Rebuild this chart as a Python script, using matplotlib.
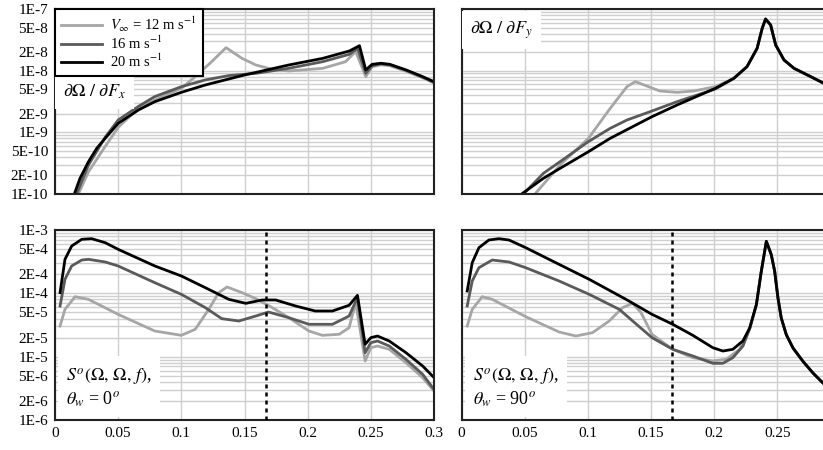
import numpy as np
import matplotlib
matplotlib.use("Agg")
import matplotlib.pyplot as plt
from matplotlib.ticker import FixedLocator, LogLocator, NullFormatter

plt.rcParams['font.family'] = ['Liberation Serif', 'DejaVu Serif']
plt.rcParams['mathtext.fontset'] = 'stix'

# values, stored as log10 of the plotted quantity
# --- top left: dOmega / dFx
fx_x_12 = [0.0185, 0.0265, 0.0397, 0.050, 0.066, 0.079, 0.100, 0.111, 0.124, 0.1354, 0.148, 0.159,
           0.172, 0.185, 0.212, 0.230, 0.238, 0.246, 0.251, 0.258, 0.265, 0.278, 0.291, 0.300]
fx_y_12 = [-10, -9.64, -9.23, -8.92, -8.61, -8.476, -8.286, -8.097, -7.854, -7.627, -7.80, -7.908,
           -7.978, -8.005, -7.962, -7.854, -7.69, -8.097, -7.935, -7.905, -7.92, -8.01, -8.115, -8.20]
fx_x_16 = [0.0172, 0.021, 0.0265, 0.0397, 0.050, 0.066, 0.079, 0.100, 0.119, 0.1376, 0.159, 0.185,
           0.212, 0.233, 0.2395, 0.246, 0.251, 0.258, 0.265, 0.278, 0.291, 0.300]
fx_y_16 = [-10, -9.80, -9.53, -9.08, -8.80, -8.58, -8.42, -8.26, -8.15, -8.08, -8.043, -7.962,
           -7.854, -7.735, -7.638, -8.043, -7.92, -7.89, -7.905, -7.995, -8.105, -8.19]
fx_x_20 = [0.0153, 0.0198, 0.0265, 0.033, 0.0397, 0.050, 0.066, 0.079, 0.100, 0.119, 0.150, 0.185,
           0.212, 0.233, 0.241, 0.246, 0.251, 0.258, 0.265, 0.278, 0.291, 0.300]
fx_y_20 = [-10, -9.746, -9.476, -9.26, -9.097, -8.854, -8.638, -8.503, -8.351, -8.232, -8.07, -7.908,
           -7.80, -7.681, -7.595, -7.989, -7.897, -7.88, -7.897, -7.989, -8.097, -8.178]

# --- top right: dOmega / dFy
fy_x_12 = [0.0582, 0.078, 0.1005, 0.1177, 0.131, 0.1376, 0.148, 0.157, 0.1706, 0.184, 0.201, 0.2156,
           0.226, 0.234, 0.238, 0.2407, 0.2447, 0.2487, 0.2553, 0.2632, 0.2738, 0.2868, 0.300]
fy_y_12 = [-10, -9.53, -9.097, -8.611, -8.259, -8.178, -8.259, -8.33, -8.351, -8.33, -8.259, -8.124,
           -7.935, -7.638, -7.314, -7.162, -7.26, -7.584, -7.827, -7.962, -8.07, -8.205, -8.32]
fy_x_16 = [0.049, 0.0648, 0.078, 0.1005, 0.1177, 0.131, 0.1508, 0.1706, 0.201, 0.2156,
           0.226, 0.234, 0.238, 0.2407, 0.2447, 0.2487, 0.2553, 0.2632, 0.2738, 0.2868, 0.300]
fy_y_16 = [-10, -9.665, -9.476, -9.15, -8.935, -8.80, -8.654, -8.503, -8.297, -8.124,
           -7.935, -7.638, -7.314, -7.162, -7.26, -7.584, -7.827, -7.962, -8.07, -8.205, -8.32]
fy_x_20 = [0.0476, 0.0648, 0.078, 0.1005, 0.1177, 0.1508, 0.1706, 0.201, 0.2156, 0.226, 0.234,
           0.238, 0.2407, 0.2447, 0.2487, 0.2553, 0.2632, 0.2738, 0.2868, 0.300]
fy_y_20 = [-10, -9.746, -9.584, -9.314, -9.097, -8.746, -8.557, -8.286, -8.124, -7.935, -7.638,
           -7.314, -7.162, -7.26, -7.584, -7.827, -7.962, -8.07, -8.205, -8.32]

# --- bottom left: S(Omega, Omega, f), theta_w = 0
s0_x_12 = [0.004, 0.0079, 0.0159, 0.0265, 0.050, 0.079, 0.100, 0.111, 0.1217, 0.1296, 0.1362, 0.148,
           0.159, 0.172, 0.185, 0.201, 0.2116, 0.2249, 0.2328, 0.238, 0.2455, 0.25, 0.2553, 0.2646,
           0.2778, 0.291, 0.300]
s0_y_12 = [-4.516, -4.253, -4.053, -4.095, -4.332, -4.595, -4.663, -4.568, -4.253, -3.989, -3.9, -3.989,
           -4.084, -4.226, -4.384, -4.595, -4.663, -4.647, -4.542, -4.147, -5.068, -4.858, -4.832, -4.884,
           -5.095, -5.332, -5.542]
s0_x_16 = [0.004, 0.0079, 0.0132, 0.0212, 0.0265, 0.0397, 0.050, 0.079, 0.100, 0.119, 0.132, 0.1455,
           0.159, 0.169, 0.185, 0.201, 0.2196, 0.2328, 0.2394, 0.2455, 0.25, 0.2553, 0.2646, 0.2778,
           0.291, 0.300]
s0_y_16 = [-4.2, -3.779, -3.568, -3.474, -3.463, -3.505, -3.568, -3.832, -4.016, -4.226, -4.4, -4.437,
           -4.358, -4.295, -4.384, -4.489, -4.489, -4.358, -4.068, -4.937, -4.779, -4.753, -4.832, -5.042,
           -5.279, -5.516]
s0_x_20 = [0.004, 0.0079, 0.0132, 0.0212, 0.029, 0.0397, 0.050, 0.079, 0.100, 0.119, 0.1376, 0.151,
           0.164, 0.1746, 0.1905, 0.206, 0.2196, 0.2328, 0.2394, 0.2455, 0.25, 0.2553, 0.2646, 0.2778,
           0.291, 0.300]
s0_y_20 = [-3.989, -3.463, -3.253, -3.147, -3.137, -3.2, -3.305, -3.568, -3.726, -3.911, -4.095, -4.158,
           -4.105, -4.105, -4.2, -4.279, -4.279, -4.189, -4.032, -4.805, -4.70, -4.674, -4.753, -4.937,
           -5.147, -5.33]

# --- bottom right: S(Omega, Omega, f), theta_w = 90 (all three share the resonance peak)
peak_x = [0.2334, 0.2373, 0.2413, 0.2452, 0.2479, 0.2505, 0.2531, 0.2571, 0.2624, 0.2703, 0.2782,
          0.2861, 0.300]
peak_y = [-4.179, -3.653, -3.179, -3.389, -3.653, -4.074, -4.389, -4.653, -4.863, -5.074, -5.258,
          -5.416, -5.65]
s90_x_12 = [0.0045, 0.0085, 0.0164, 0.0243, 0.0508, 0.0772, 0.0905, 0.1037, 0.1169, 0.1275, 0.1355,
            0.1421, 0.1508, 0.1672, 0.1831, 0.1989, 0.2095, 0.2201, 0.2281] + peak_x
s90_y_12 = [-4.516, -4.253, -4.053, -4.095, -4.368, -4.61, -4.674, -4.621, -4.437, -4.226, -4.158,
            -4.305, -4.647, -4.884, -5.016, -5.068, -5.042, -4.884, -4.56] + peak_y
s90_x_16 = [0.0045, 0.0085, 0.0138, 0.0243, 0.0376, 0.0508, 0.0772, 0.1011, 0.1249, 0.1355, 0.1508,
            0.1672, 0.1831, 0.1989, 0.2069, 0.2148, 0.2228, 0.2281] + peak_x
s90_y_16 = [-4.2, -3.805, -3.595, -3.474, -3.505, -3.595, -3.805, -4.016, -4.253, -4.437, -4.7,
            -4.884, -4.989, -5.105, -5.105, -5.016, -4.832, -4.56] + peak_y
s90_x_20 = [0.0045, 0.0085, 0.0138, 0.0217, 0.0296, 0.0376, 0.0508, 0.0772, 0.1011, 0.1302, 0.1508,
            0.1672, 0.1831, 0.1989, 0.2069, 0.2148, 0.2228, 0.2281] + peak_x
s90_y_20 = [-3.963, -3.516, -3.279, -3.158, -3.137, -3.158, -3.279, -3.542, -3.779, -4.095, -4.332,
            -4.489, -4.663, -4.858, -4.911, -4.884, -4.75, -4.547] + peak_y

speeds = ['12', '16', '20']
colors = ['#a6a6a6', '#5a5a5a', '#000000']
top_ticks = [1e-10, 2e-10, 5e-10, 1e-9, 2e-9, 5e-9, 1e-8, 2e-8, 5e-8, 1e-7]
top_labels = ['1E-10', '2E-10', '5E-10', '1E-9', '2E-9', '5E-9', '1E-8', '2E-8', '5E-8', '1E-7']
bot_ticks = [1e-6, 2e-6, 5e-6, 1e-5, 2e-5, 5e-5, 1e-4, 2e-4, 5e-4, 1e-3]
bot_labels = ['1E-6', '2E-6', '5E-6', '1E-5', '2E-5', '5E-5', '1E-4', '2E-4', '5E-4', '1E-3']
x_ticks = [0, 0.05, 0.1, 0.15, 0.2, 0.25, 0.3]
x_labels = ['0', '0.05', '0.1', '0.15', '0.2', '0.25', '0.3']
f_mark = 1 / 6

fig = plt.figure(figsize=(8.23, 4.5), dpi=100)
W, H = 823, 450


def make_ax(left, top, width, height):
    return fig.add_axes([left / W, 1 - (top + height) / H, width / W, height / H])


ax_fx = make_ax(55, 9, 379, 185)
ax_fy = make_ax(461.5, 9, 379, 185)
ax_s0 = make_ax(55, 230, 379, 190)
ax_s90 = make_ax(461.5, 230, 379, 190)

panels = [
    (ax_fx, [(fx_x_12, fx_y_12), (fx_x_16, fx_y_16), (fx_x_20, fx_y_20)], True),
    (ax_fy, [(fy_x_12, fy_y_12), (fy_x_16, fy_y_16), (fy_x_20, fy_y_20)], True),
    (ax_s0, [(s0_x_12, s0_y_12), (s0_x_16, s0_y_16), (s0_x_20, s0_y_20)], False),
    (ax_s90, [(s90_x_12, s90_y_12), (s90_x_16, s90_y_16), (s90_x_20, s90_y_20)], False),
]

for i, (ax, series, is_top) in enumerate(panels):
    for (xs, ys), sp, c in zip(series, speeds, colors):
        lab = r'$V_\infty$ = 12 m s$^{-1}$' if sp == '12' else sp + r' m s$^{-1}$'
        ax.plot(xs, np.power(10.0, ys), color=c, lw=2.0, label=lab, zorder=2,
                solid_joinstyle='round')
    ax.set_yscale('log')
    ax.set_xlim(0, 0.3)
    if is_top:
        ax.set_ylim(1e-10, 1e-7)
        ticks, labels = top_ticks, top_labels
    else:
        ax.set_ylim(1e-6, 1e-3)
        ticks, labels = bot_ticks, bot_labels
    ax.yaxis.set_major_locator(FixedLocator(ticks))
    ax.yaxis.set_minor_locator(LogLocator(base=10, subs=np.arange(1, 10)))
    ax.yaxis.set_minor_formatter(NullFormatter())
    if i % 2 == 0:
        ax.set_yticklabels(labels)
    else:
        ax.set_yticklabels([])
    ax.xaxis.set_major_locator(FixedLocator(x_ticks))
    if is_top:
        ax.set_xticklabels([])
    elif i % 2 == 0:
        ax.set_xticklabels(x_labels)
    else:
        # right column runs off the page, its last label is not shown
        ax.set_xticklabels(x_labels[:-1] + [''])
    ax.tick_params(which='both', length=0, labelsize=11, pad=5)
    ax.set_axisbelow(True)
    ax.grid(True, which='minor', axis='y', color='#cfcfcf', lw=1.0)
    ax.grid(True, which='major', axis='both', color='#cfcfcf', lw=1.0)
    for s in ax.spines.values():
        s.set_linewidth(1.5)
        s.set_color('#222222')

# dashed marker line in the bottom panels
for ax in (ax_s0, ax_s90):
    ax.axvline(f_mark, color='black', lw=1.8, ls=(0, (1.6, 1.6)), zorder=3)

leg = ax_fx.legend(loc='upper left', borderaxespad=0, fontsize=10.5, handlelength=2.8,
                   labelspacing=0.05, handletextpad=0.6, borderpad=0.4, fancybox=False,
                   framealpha=1, edgecolor='black')
leg.get_frame().set_linewidth(1.5)
leg.set_zorder(5)

ax_fx.text(0.022, 0.555, r'$\partial\Omega\ /\ \partial F_x$', transform=ax_fx.transAxes,
           fontsize=13, va='center', ha='left', bbox=dict(facecolor='white', edgecolor='none', pad=6),
           zorder=4)
ax_fy.text(0.022, 0.885, r'$\partial\Omega\ /\ \partial F_y$', transform=ax_fy.transAxes,
           fontsize=13, va='center', ha='left', bbox=dict(facecolor='white', edgecolor='none', pad=6),
           zorder=4)
ax_s0.text(0.03, 0.06, r'$S^o(\Omega,\,\Omega,\,f)$,' + '\n' + r'$\theta_w$ = 0$^o$',
           transform=ax_s0.transAxes, fontsize=13, va='bottom', ha='left', linespacing=1.15,
           bbox=dict(facecolor='white', edgecolor='none', pad=6), zorder=4)
ax_s90.text(0.03, 0.06, r'$S^o(\Omega,\,\Omega,\,f)$,' + '\n' + r'$\theta_w$ = 90$^o$',
            transform=ax_s90.transAxes, fontsize=13, va='bottom', ha='left', linespacing=1.15,
            bbox=dict(facecolor='white', edgecolor='none', pad=6), zorder=4)

fig.savefig('out.png', dpi=100)
